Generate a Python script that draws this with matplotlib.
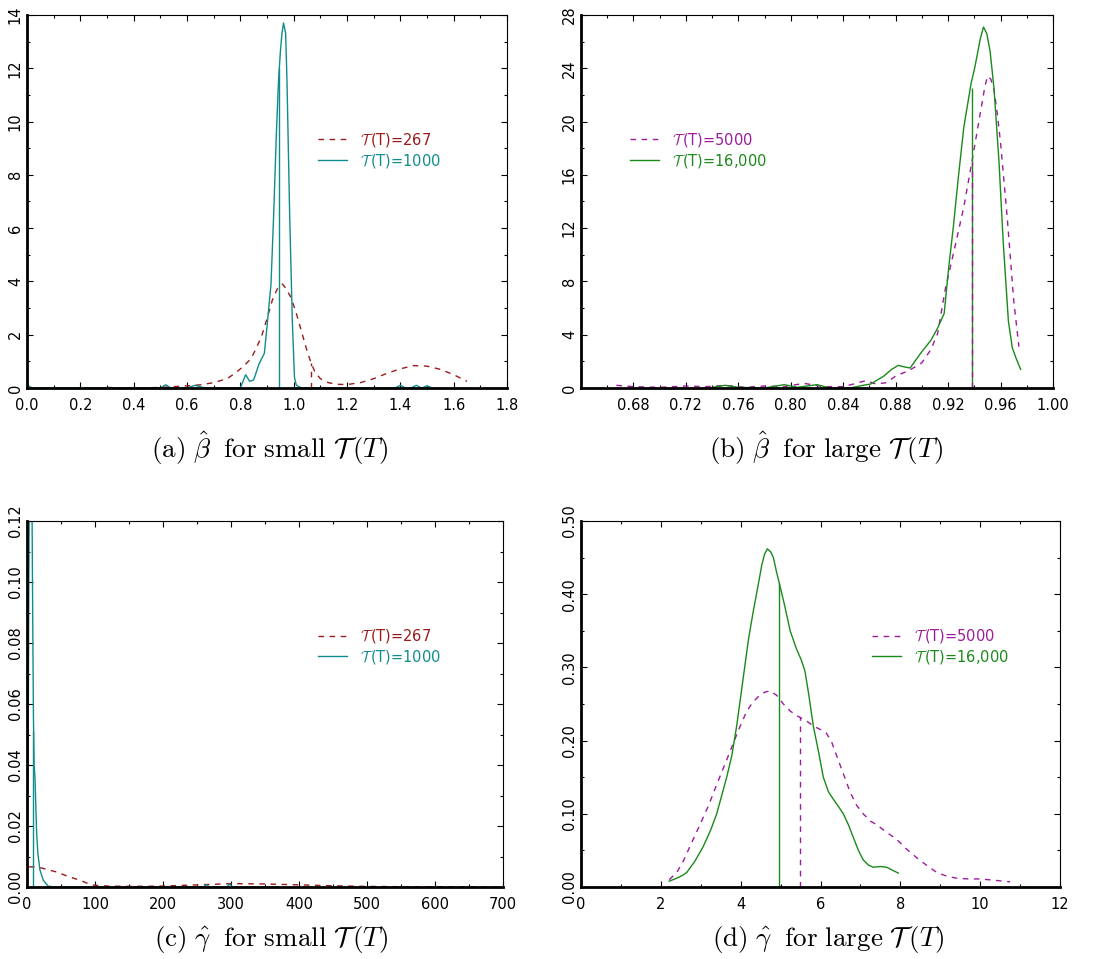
import matplotlib
matplotlib.use("Agg")
import matplotlib.pyplot as plt
from matplotlib.ticker import MultipleLocator, FixedLocator, FormatStrFormatter
from matplotlib.transforms import ScaledTranslation

plt.rcParams['font.family'] = ['DejaVu Sans']
plt.rcParams['mathtext.fontset'] = 'cm'

# ---------------- data ----------------
# (a) beta-hat, small T(T)
a_red_x = [0.30, 0.40, 0.50, 0.55, 0.60, 0.65, 0.70, 0.75, 0.78, 0.81, 0.84, 0.86, 0.88, 0.90, 0.92,
           0.94, 0.958, 0.97, 0.99, 1.01, 1.03, 1.05, 1.065, 1.08, 1.10, 1.13, 1.16, 1.20, 1.25, 1.30,
           1.35, 1.40, 1.45, 1.50, 1.55, 1.60, 1.65]
a_red_y = [0.02, 0.0, 0.02, 0.05, 0.08, 0.12, 0.2, 0.35, 0.55, 0.8, 1.1, 1.5, 1.95, 2.6, 3.3,
           3.75, 3.9, 3.75, 3.4, 2.8, 2.1, 1.4, 0.95, 0.6, 0.35, 0.2, 0.14, 0.13, 0.2, 0.35,
           0.55, 0.72, 0.84, 0.82, 0.7, 0.5, 0.25]
a_teal_x = [0.0, 0.02, 0.50, 0.52, 0.54, 0.60, 0.63, 0.66, 0.70, 0.80, 0.82, 0.835, 0.85, 0.87,
            0.89, 0.90, 0.915, 0.925, 0.935, 0.943, 0.95, 0.956, 0.962, 0.97, 0.975, 0.985, 0.995,
            1.003, 1.01, 1.03, 1.38, 1.40, 1.42, 1.44, 1.46, 1.48, 1.50, 1.52]
a_teal_y = [0.1, 0.0, 0.0, 0.12, 0.0, 0.0, 0.1, 0.02, 0.0, 0.0, 0.5, 0.25, 0.3, 0.9,
            1.3, 2.3, 3.9, 6.5, 9.5, 11.5, 12.6, 13.3, 13.7, 13.3, 11.5, 6.5, 2.5,
            0.4, 0.1, 0.0, 0.0, 0.1, 0.0, 0.0, 0.1, 0.0, 0.08, 0.0]
a_red_mark = (1.065, 0.95)
a_teal_mark = (0.944, 12.0)

# (b) beta-hat, large T(T)
b_purple_x = [0.667, 0.68, 0.70, 0.72, 0.735, 0.75, 0.765, 0.78, 0.795, 0.81, 0.825, 0.84, 0.85,
              0.857, 0.865, 0.873, 0.88, 0.89, 0.90, 0.907, 0.912, 0.918, 0.925, 0.932, 0.938,
              0.945, 0.948, 0.950, 0.9525, 0.955, 0.9575, 0.960, 0.965, 0.970, 0.974]
b_purple_y = [0.2, 0.1, 0.05, 0.15, 0.1, 0.2, 0.05, 0.15, 0.1, 0.35, 0.1, 0.1, 0.35,
              0.55, 0.3, 0.4, 0.9, 1.3, 1.9, 2.9, 4.1, 7.5, 10.5, 13.6, 16.9,
              20.9, 22.6, 23.4, 23.2, 22.4, 20.6, 18.4, 12.9, 6.6, 3.1]
b_green_x = [0.74, 0.75, 0.76, 0.78, 0.795, 0.805, 0.82, 0.83, 0.845, 0.855, 0.861, 0.871, 0.877,
             0.882, 0.886, 0.891, 0.899, 0.907, 0.912, 0.917, 0.9205, 0.924, 0.928, 0.932, 0.9376,
             0.940, 0.942, 0.9445, 0.947, 0.9495, 0.952, 0.955, 0.9588, 0.962, 0.966, 0.969, 0.972,
             0.9753]
b_green_y = [0.05, 0.2, 0.05, 0.0, 0.25, 0.05, 0.25, 0.0, 0.0, 0.2, 0.3, 0.9, 1.4,
             1.7, 1.6, 1.5, 2.6, 3.6, 4.5, 5.6, 9.1, 12.1, 16.0, 19.6, 22.9,
             23.9, 24.9, 26.2, 27.1, 26.6, 25.3, 22.5, 17.0, 11.0, 5.0, 3.0, 2.2,
             1.4]
b_purple_mark = (0.938, 17.0)
b_green_mark = (0.938, 22.5)

# (c) gamma-hat, small T(T)
c_red_x = [3, 10, 22, 30, 44, 60, 78, 90, 98, 120, 150, 200, 250, 300, 350, 400, 450, 500, 550, 600, 700]
c_red_y = [0.0066, 0.0066, 0.0062, 0.0057, 0.0049, 0.0035, 0.0022, 0.0011, 0.0006, 0.0003, 0.0002,
           0.0003, 0.0007, 0.0011, 0.001, 0.0007, 0.0004, 0.0002, 0.0001, 0.0001, 0.0]
c_teal_x = [1.5, 2.5, 3.5, 4.5, 5.5, 6.5, 7.5, 8.5, 9.5, 10.5, 11.8, 13, 14.2, 16, 19, 24, 31, 40,
            260, 264, 268, 294, 298, 302, 370]
c_teal_y = [0.031, 0.09, 0.135, 0.155, 0.155, 0.14, 0.12, 0.085, 0.055, 0.04, 0.0357, 0.026,
            0.0177, 0.011, 0.0056, 0.0022, 0.0003, 0.0, 0.0, 0.0008, 0.0, 0.0, 0.001, 0.0, 0.0]
c_teal_mark = (9.3, 0.051)

# (d) gamma-hat, large T(T)
d_purple_x = [2.21, 2.40, 2.56, 2.75, 2.98, 3.20, 3.40, 3.60, 3.77, 3.95, 4.15, 4.30, 4.44, 4.60,
              4.73, 4.90, 5.07, 5.25, 5.44, 5.62, 5.82, 6.00, 6.15, 6.28, 6.40, 6.57, 6.74, 6.90,
              7.07, 7.25, 7.41, 7.65, 7.91, 8.15, 8.41, 8.65, 8.91, 9.15, 9.41, 9.70, 10.0, 10.4,
              10.75]
d_purple_y = [0.010, 0.020, 0.035, 0.058, 0.085, 0.112, 0.140, 0.167, 0.190, 0.215, 0.240, 0.252,
              0.260, 0.266, 0.268, 0.262, 0.250, 0.240, 0.233, 0.228, 0.220, 0.215, 0.210, 0.198,
              0.180, 0.155, 0.130, 0.112, 0.100, 0.090, 0.085, 0.075, 0.065, 0.052, 0.040, 0.030,
              0.020, 0.015, 0.012, 0.011, 0.011, 0.009, 0.007]
d_green_x = [2.21, 2.40, 2.55, 2.65, 2.85, 3.06, 3.25, 3.40, 3.55, 3.65, 3.78, 3.90, 4.00, 4.10,
             4.20, 4.32, 4.43, 4.53, 4.60, 4.67, 4.75, 4.82, 4.90, 4.99, 5.10, 5.24, 5.40, 5.52,
             5.61, 5.70, 5.82, 5.95, 6.07, 6.20, 6.32, 6.45, 6.57, 6.70, 6.82, 6.95, 7.07, 7.20,
             7.32, 7.50, 7.66, 7.80, 7.95]
d_green_y = [0.008, 0.012, 0.016, 0.020, 0.035, 0.055, 0.078, 0.100, 0.130, 0.150, 0.180, 0.220,
             0.260, 0.300, 0.340, 0.378, 0.410, 0.440, 0.455, 0.462, 0.458, 0.450, 0.430, 0.410,
             0.385, 0.350, 0.325, 0.310, 0.295, 0.265, 0.220, 0.185, 0.150, 0.130, 0.120, 0.110,
             0.100, 0.085, 0.068, 0.050, 0.037, 0.030, 0.027, 0.028, 0.027, 0.023, 0.019]
d_purple_mark = (5.49, 0.232)
d_green_mark = (4.97, 0.415)

labels_small = [r"$\mathcal{T}\,$(T)=267", r"$\mathcal{T}\,$(T)=1000"]
labels_large = [r"$\mathcal{T}\,$(T)=5000", r"$\mathcal{T}\,$(T)=16,000"]
captions = [r"$\mathrm{(a)}\ \hat{\beta}\ \;\mathrm{for\ small}\ \mathcal{T}\,(T)$",
            r"$\mathrm{(b)}\ \hat{\beta}\ \;\mathrm{for\ large}\ \mathcal{T}\,(T)$",
            r"$\mathrm{(c)}\ \hat{\gamma}\ \;\mathrm{for\ small}\ \mathcal{T}\,(T)$",
            r"$\mathrm{(d)}\ \hat{\gamma}\ \;\mathrm{for\ large}\ \mathcal{T}\,(T)$"]

RED = "#9b1a1a"
TEAL = "#108c8c"
PURPLE = "#9c1c9c"
GREEN = "#1a8a1a"
DASH = (0, (4, 4))

W, H = 1094, 959
fig = plt.figure(figsize=(W / 100, H / 100), dpi=100)

def px_axes(l, t, r, b):
    return fig.add_axes([l / W, 1 - b / H, (r - l) / W, (b - t) / H])

def style(ax):
    for s in ['top', 'right']:
        ax.spines[s].set_linewidth(0.8)
    for s in ['bottom', 'left']:
        ax.spines[s].set_linewidth(2.0)
    ax.tick_params(which='both', direction='in', top=True, right=True, labelsize=10.5, width=0.8)
    ax.tick_params(which='major', length=4.5)
    ax.tick_params(which='minor', length=2.5)
    ax.tick_params(axis='x', pad=7)
    ax.tick_params(axis='y', pad=3, labelrotation=90)
    for lab in ax.get_yticklabels():
        lab.set_va('center')

def shift_first_xlabel(ax, dx_px):
    labs = ax.get_xticklabels()
    labs[0].set_transform(labs[0].get_transform() + ScaledTranslation(dx_px / 100, 0, fig.dpi_scale_trans))

def legend(ax, bx, by):
    return ax.legend(loc='upper left', bbox_to_anchor=(bx, by), frameon=False, fontsize=10.5,
                     handlelength=2.0, handletextpad=0.9, labelspacing=0.2, borderaxespad=0,
                     borderpad=0, labelcolor='linecolor')

# ---- (a)
ax = px_axes(27, 15, 507, 388)
ax.plot(a_red_x, a_red_y, color=RED, lw=1.0, ls=DASH, label=labels_small[0])
ax.plot(a_teal_x, a_teal_y, color=TEAL, lw=1.0, label=labels_small[1])
ax.vlines(a_red_mark[0], 0, a_red_mark[1], color=RED, lw=1.0, linestyles=DASH)
ax.vlines(a_teal_mark[0], 0, a_teal_mark[1], color=TEAL, lw=1.0)
ax.set_xlim(0, 1.8)
ax.set_ylim(0, 14)
ax.xaxis.set_major_locator(MultipleLocator(0.2))
ax.xaxis.set_minor_locator(MultipleLocator(0.1))
ax.xaxis.set_major_formatter(FormatStrFormatter('%.1f'))
ax.yaxis.set_major_locator(MultipleLocator(2))
ax.yaxis.set_minor_locator(MultipleLocator(1))
style(ax)
shift_first_xlabel(ax, 13)
legend(ax, 0.606, 0.69)

# ---- (b)
ax = px_axes(581, 15, 1053, 388)
ax.plot(b_purple_x, b_purple_y, color=PURPLE, lw=1.0, ls=DASH, label=labels_large[0])
ax.plot(b_green_x, b_green_y, color=GREEN, lw=1.0, label=labels_large[1])
ax.vlines(b_green_mark[0], 0, b_green_mark[1], color=GREEN, lw=1.0)
ax.vlines(b_purple_mark[0], 0, b_purple_mark[1], color=PURPLE, lw=1.0, linestyles=DASH)
ax.set_xlim(0.64, 1.00)
ax.set_ylim(0, 28)
ax.xaxis.set_major_locator(FixedLocator([0.68, 0.72, 0.76, 0.80, 0.84, 0.88, 0.92, 0.96, 1.00]))
ax.xaxis.set_minor_locator(MultipleLocator(0.02))
ax.xaxis.set_major_formatter(FormatStrFormatter('%.2f'))
ax.yaxis.set_major_locator(MultipleLocator(4))
ax.yaxis.set_minor_locator(MultipleLocator(2))
style(ax)
legend(ax, 0.104, 0.69)

# ---- (c)
ax = px_axes(27, 521, 503, 887)
ax.plot(c_red_x, c_red_y, color=RED, lw=1.0, ls=DASH, label=labels_small[0])
ax.plot(c_teal_x, c_teal_y, color=TEAL, lw=1.0, label=labels_small[1])
ax.vlines(c_teal_mark[0], 0, c_teal_mark[1], color=TEAL, lw=1.0)
ax.set_xlim(0, 700)
ax.set_ylim(0, 0.12)
ax.xaxis.set_major_locator(MultipleLocator(100))
ax.xaxis.set_minor_locator(MultipleLocator(50))
ax.yaxis.set_major_locator(MultipleLocator(0.02))
ax.yaxis.set_minor_locator(MultipleLocator(0.01))
ax.yaxis.set_major_formatter(FormatStrFormatter('%.2f'))
style(ax)
shift_first_xlabel(ax, 6)
legend(ax, 0.611, 0.71)

# ---- (d)
ax = px_axes(581, 521, 1060, 887)
ax.plot(d_purple_x, d_purple_y, color=PURPLE, lw=1.0, ls=DASH, label=labels_large[0])
ax.plot(d_green_x, d_green_y, color=GREEN, lw=1.0, label=labels_large[1])
ax.vlines(d_green_mark[0], 0, d_green_mark[1], color=GREEN, lw=1.0)
ax.vlines(d_purple_mark[0], 0, d_purple_mark[1], color=PURPLE, lw=1.0, linestyles=DASH)
ax.set_xlim(0, 12)
ax.set_ylim(0, 0.5)
ax.xaxis.set_major_locator(MultipleLocator(2))
ax.xaxis.set_minor_locator(MultipleLocator(1))
ax.yaxis.set_major_locator(MultipleLocator(0.1))
ax.yaxis.set_minor_locator(MultipleLocator(0.05))
ax.yaxis.set_major_formatter(FormatStrFormatter('%.2f'))
style(ax)
shift_first_xlabel(ax, 12)
legend(ax, 0.607, 0.71)

# captions
cap_pos = [(270, 448), (826, 448), (271, 940), (828, 940)]
for (cx, cy), txt in zip(cap_pos, captions):
    fig.text(cx / W, 1 - cy / H, txt, ha='center', va='center', fontsize=19.5)

fig.savefig("out.png", dpi=100)
